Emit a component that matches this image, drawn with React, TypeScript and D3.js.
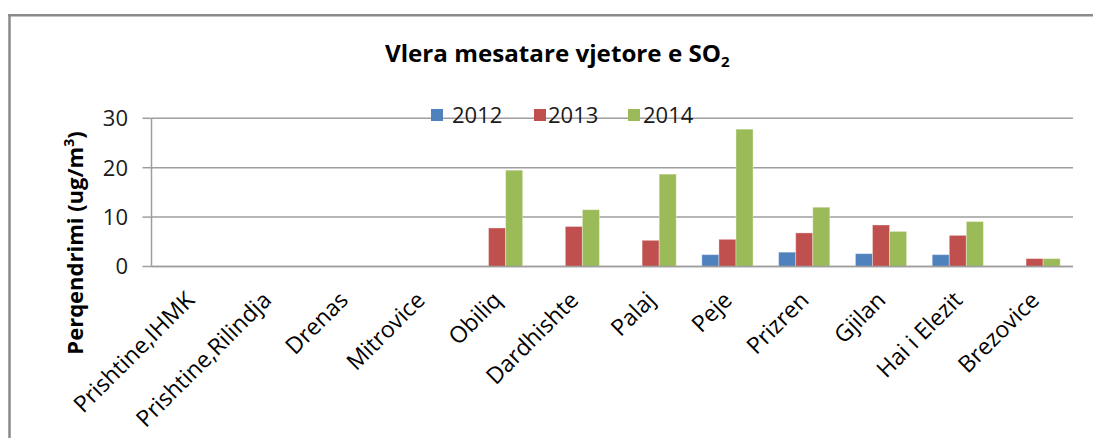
import React from "react";
import * as d3 from "d3";

const categories = [
  "Prishtine,IHMK",
  "Prishtine,Rilindja",
  "Drenas",
  "Mitrovice",
  "Obiliq",
  "Dardhishte",
  "Palaj",
  "Peje",
  "Prizren",
  "Gjilan",
  "Hai i Elezit",
  "Brezovice",
];
const seriesNames = ["2012", "2013", "2014"];
const values2012: (number | null)[] = [null, null, null, null, null, null, null, 2.4, 2.9, 2.6, 2.4, null];
const values2013: (number | null)[] = [null, null, null, null, 7.8, 8.1, 5.3, 5.5, 6.8, 8.4, 6.3, 1.6];
const values2014: (number | null)[] = [null, null, null, null, 19.5, 11.5, 18.7, 27.8, 12.0, 7.1, 9.1, 1.6];
const yTicks = [0, 10, 20, 30];
const colors = ["#4F81BD", "#C0504D", "#9BBB59"];

const W = 1093;
const H = 438;
const FONT = "'Open Sans', sans-serif";

export default function App() {
  const left = 151.5;
  const right = 1073;
  const top = 118.3;
  const bottom = 266.5;

  const x = d3.scaleBand<string>().domain(categories).range([left, right]).paddingInner(0).paddingOuter(0);
  const y = d3.scaleLinear().domain([0, 30]).range([bottom, top]);
  const step = x.bandwidth();
  const barW = step / 4.5;
  const inner = d3
    .scaleBand<string>()
    .domain(seriesNames)
    .range([(step - 3 * barW) / 2, (step + 3 * barW) / 2]);

  const allSeries = [values2012, values2013, values2014];

  const gridColor = "#9e9e9e";

  const legendSquareX = [431, 534, 628];
  const legendTextX = [452, 548, 643];

  return (
    <div style={{ position: "fixed", left: 0, top: 0, width: W, height: H, overflow: "hidden", background: "#fff" }}>
      <svg width={W} height={H} style={{ display: "block" }} xmlns="http://www.w3.org/2000/svg">
        <rect x={0} y={0} width={W} height={H} fill="#fff" />
        {/* chart frame (extends beyond the visible area on right and bottom) */}
        <line x1={9.5} x2={9.5} y1={14} y2={H} stroke="#8a8a8a" strokeWidth={2.5} />
        <line x1={8.25} x2={W} y1={15.2} y2={15.2} stroke="#8a8a8a" strokeWidth={2.5} />

        {/* title */}
        <text x={385} y={62} fontFamily={FONT} fontWeight="bold" fontSize={23} fill="#000">
          <tspan textLength={336} lengthAdjust="spacingAndGlyphs">Vlera mesatare vjetore e SO</tspan>
          <tspan fontSize={15} dy={5}>2</tspan>
        </text>

        {/* gridlines */}
        {yTicks.map((t) => (
          <g key={t}>
            <line x1={left} x2={right} y1={y(t)} y2={y(t)} stroke={gridColor} strokeWidth={1.5} />
            <line x1={left - 9} x2={left} y1={y(t)} y2={y(t)} stroke={gridColor} strokeWidth={1.5} />
            <text
              x={128}
              y={y(t)}
              dy="0.36em"
              textAnchor="end"
              fontFamily={FONT}
              fontSize={22}
              fill="#1a1a1a"
            >
              {t}
            </text>
          </g>
        ))}
        {/* y axis line */}
        <line x1={left} x2={left} y1={top} y2={bottom} stroke={gridColor} strokeWidth={1.5} />

        {/* bars */}
        {allSeries.map((vals, si) =>
          vals.map((v, ci) =>
            v == null ? null : (
              <rect
                key={`${si}-${ci}`}
                x={(x(categories[ci]) as number) + (inner(seriesNames[si]) as number)}
                y={y(v)}
                width={barW}
                height={y(0) - y(v)}
                fill={colors[si]}
                stroke="#ffffff"
                strokeOpacity={0.35}
                strokeWidth={1}
              />
            )
          )
        )}

        {/* x axis line */}
        <line x1={left} x2={right} y1={bottom} y2={bottom} stroke={gridColor} strokeWidth={1.5} />

        {/* x labels */}
        {categories.map((c) => {
          const cx = (x(c) as number) + step / 2 + 6;
          const cy = bottom + 35;
          return (
            <text
              key={c}
              x={cx}
              y={cy}
              textAnchor="end"
              transform={`rotate(-45, ${cx}, ${cy})`}
              fontFamily={FONT}
              fontSize={23}
              fill="#000"
            >
              {c}
            </text>
          );
        })}

        {/* y axis title */}
        <text
          transform={`translate(83, 243) rotate(-90)`}
          textAnchor="middle"
          fontFamily={FONT}
          fontWeight="bold"
          fontSize={22}
          fill="#000"
        >
          Perqendrimi (ug/m
          <tspan fontSize={14} dy={-9}>3</tspan>
          <tspan dy={9}>)</tspan>
        </text>

        {/* legend */}
        {seriesNames.map((s, i) => (
          <g key={s}>
            <rect x={legendSquareX[i]} y={109} width={12} height={12} fill={colors[i]} />
            <text x={legendTextX[i]} y={123} fontFamily={FONT} fontSize={22} fill="#1a1a1a">
              {s}
            </text>
          </g>
        ))}
        {/* keep the right strip blank (frame continues past the visible area) */}
        <rect x={1082} y={17} width={W - 1082} height={H - 17} fill="#fff" />
      </svg>
    </div>
  );
}
